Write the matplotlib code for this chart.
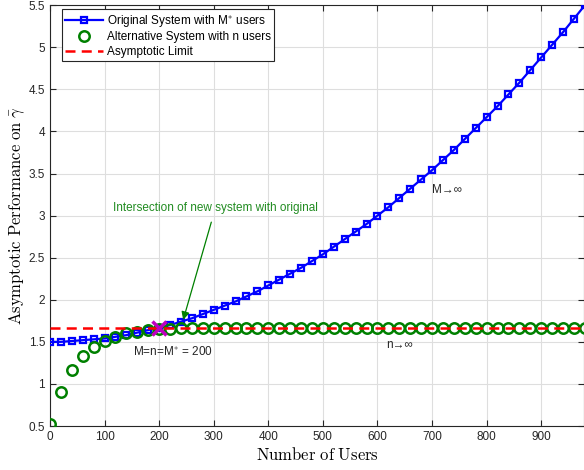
import matplotlib
matplotlib.use('Agg')
import matplotlib.pyplot as plt

plt.rcParams['font.family'] = ['Liberation Sans', 'DejaVu Sans']
plt.rcParams['mathtext.fontset'] = 'cm'

# number of users (both systems sampled every 20)
users = list(range(0, 1001, 20))

# original system with M* users
original = [1.50, 1.50, 1.51, 1.52, 1.53, 1.54, 1.56, 1.58, 1.61, 1.64,
            1.67, 1.70, 1.74, 1.78, 1.83, 1.88, 1.93, 1.98, 2.04, 2.10,
            2.17, 2.24, 2.31, 2.38, 2.46, 2.54, 2.63, 2.72, 2.81, 2.90,
            3.00, 3.10, 3.21, 3.32, 3.43, 3.54, 3.66, 3.78, 3.91, 4.04,
            4.17, 4.30, 4.44, 4.58, 4.73, 4.88, 5.03, 5.18, 5.34, 5.50,
            5.67]

# alternative system with n users
alternative = [0.52, 0.90, 1.16, 1.33, 1.44, 1.51, 1.56, 1.60, 1.62, 1.64,
               1.65, 1.655, 1.66, 1.66, 1.663, 1.665, 1.666, 1.666, 1.667, 1.667,
               1.667, 1.667, 1.667, 1.667, 1.667, 1.667, 1.667, 1.667, 1.667, 1.667,
               1.667, 1.667, 1.667, 1.667, 1.667, 1.667, 1.667, 1.667, 1.667, 1.667,
               1.667, 1.667, 1.667, 1.667, 1.667, 1.667, 1.667, 1.667, 1.667, 1.667,
               1.667]

limit = 1.667
cross_x, cross_y = 200, 1.667

fig = plt.figure(figsize=(5.84, 4.70), dpi=100)
ax = fig.add_axes([0.0856, 0.0936, 0.915, 0.8953])

ax.plot(users, original, 'bs-', lw=1.6, ms=5, mfc='none', mew=1.6,
        label='Original System with M$^{*}$ users', zorder=3)
ax.plot(users, alternative, 'o', color=(0, 0.5, 0), ms=7.5, mfc='none', mew=1.8,
        label='Alternative System with n users', zorder=4)
ax.plot([0, 1000], [limit, limit], '--', color='r', lw=1.8, dashes=(4, 2.5),
        label='Asymptotic Limit', zorder=5)
ax.plot(cross_x, cross_y, 'x', color='m', ms=10, mew=2.5, zorder=6)

ax.annotate('Intersection of new system with original', xy=(244, 1.76),
            xytext=(303, 3.09), color=(0.13, 0.55, 0.13), fontsize=8.5,
            ha='center', va='center',
            arrowprops=dict(arrowstyle='-|>', color='g', lw=0.9,
                            mutation_scale=12, shrinkA=4, shrinkB=0))
ax.text(699, 3.30, 'M→∞', fontsize=8.5, color='0.15', va='center')
ax.text(615, 1.46, 'n→∞', fontsize=8.5, color='0.15', va='center')
ax.text(152, 1.38, 'M=n=M$^{*}$ = 200', fontsize=8.5, color='0.15',
        va='center')

ax.set_xlim(0, 979)
ax.set_ylim(0.5, 5.5)
ax.set_xticks(range(0, 901, 100))
ax.set_yticks([0.5, 1, 1.5, 2, 2.5, 3, 3.5, 4, 4.5, 5, 5.5])
ax.set_yticklabels(['0.5', '1', '1.5', '2', '2.5', '3', '3.5', '4', '4.5', '5', '5.5'])
ax.tick_params(direction='in', top=True, right=True, labelsize=8.5,
               labelcolor='0.15', color='0.15', length=4)
ax.grid(True, color='0.87', lw=0.8)
ax.set_axisbelow(True)
for s in ax.spines.values():
    s.set_color('0.15')

ax.set_xlabel(r'$\mathrm{Number\ of\ Users}$', fontsize=12, labelpad=2)
ax.set_ylabel(r'$\mathrm{Asymptotic\ Performance\ on\ }\bar{\gamma}$',
              fontsize=12, labelpad=1)

leg = ax.legend(loc='upper left', bbox_to_anchor=(0.022, 0.99), fontsize=8.5,
                fancybox=False, framealpha=1, edgecolor='0.15',
                handlelength=3.2, borderpad=0.3, labelspacing=0.2,
                handletextpad=0.3, borderaxespad=0)
leg.get_frame().set_linewidth(0.8)

fig.savefig('out.png', dpi=100)
